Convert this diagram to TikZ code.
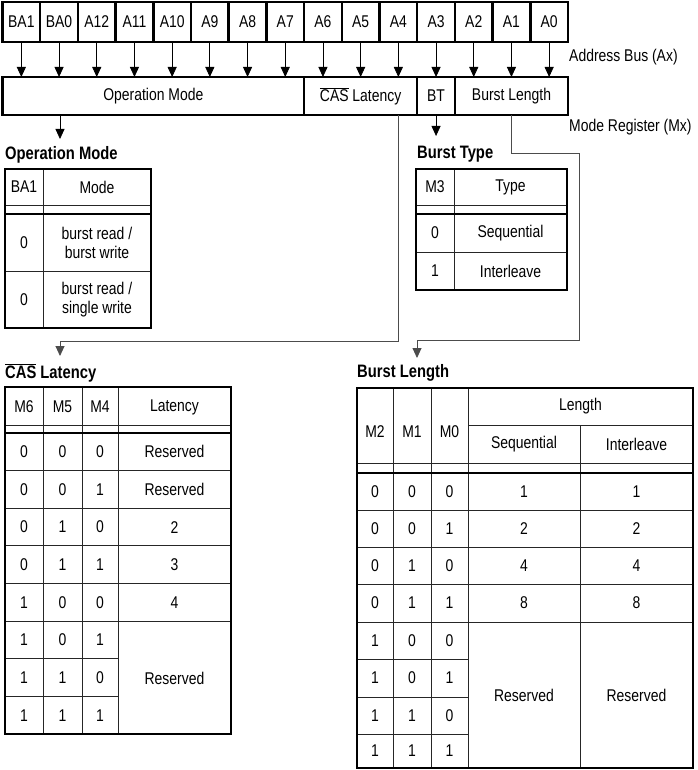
\documentclass[tikz,border=0pt]{standalone}
\usepackage{fontspec}
\setmainfont{Liberation Sans}[FakeStretch=0.82]
\usetikzlibrary{arrows.meta}
\newcommand{\ovl}[1]{$\overline{\hbox{#1}}$}
\begin{document}
\begin{tikzpicture}[x=1pt,y=-1pt,
  font=\fontsize{17}{19}\selectfont,
  topbox/.style={draw, line width=2.5pt, minimum width=37.7pt, minimum height=40pt, inner sep=0pt, outer sep=0pt},
  regbox/.style={draw, line width=2.5pt, minimum height=38pt, inner sep=0pt, outer sep=0pt},
  cell/.style={inner sep=0pt, align=center},
  ttl/.style={font=\fontsize{18}{20}\selectfont\bfseries, anchor=west, inner sep=0pt},
  side/.style={anchor=west, inner sep=0pt},
  tblouter/.style={line width=2.8pt},
  tblinner/.style={line width=0.8pt, black!85},
  tblhdr/.style={line width=1.4pt},
  arr/.style={-{Triangle[length=10pt,width=9pt]}, line width=0.8pt},
  conn/.style={-{Triangle[length=10pt,width=9pt]}, line width=0.9pt, black!70}
]
\useasboundingbox[fill=white] (0,0) rectangle (697,770);

% ---- address bus boxes
\foreach \lab [count=\i from 0] in {BA1,BA0,A12,A11,A10,A9,A8,A7,A6,A5,A4,A3,A2,A1,A0} {
  \node[topbox] (t\i) at ({2.5+(\i+0.5)*37.7},22) {\lab};
}

% ---- mode register
\node[regbox, minimum width=301.6pt] (opm) at (153.3,96) {Operation Mode};
\node[regbox, minimum width=113.1pt] (cas) at (360.65,96) {\ovl{CAS} Latency};
\node[regbox, minimum width=37.7pt] (bt) at (436.05,96) {BT};
\node[regbox, minimum width=113.1pt] (bl) at (511.5,96) {Burst Length};

\foreach \i in {0,...,14} {
  \draw[arr] (t\i.south) -- (t\i.south |- opm.north);
}

\node[side] (abus) at (569,57) {Address Bus (Ax)};
\node[side] (mreg) at (569,127) {Mode Register (Mx)};

% ---- connectors
\coordinate (optip) at (60,139);
\coordinate (bttip) at (436.05,136);
\coordinate (castip) at (60,356);
\coordinate (bltip) at (417,358);
\draw[arr] (opm.south -| optip) -- (optip);
\draw[arr] (bt.south) -- (bttip);
\draw[conn] (cas.south -| t10.south) -- ++(0,226) -| (castip);
\draw[conn] (bl.south -| t13.south) -- ++(0,38) -- ++(68,0) -- ++(0,187) -| (bltip);

% ---- titles
\node[ttl] (opttl) at (5,155) {Operation Mode};
\node[ttl] (btttl) at (417,154) {Burst Type};
\node[ttl] (casttl) at (5,373) {\ovl{CAS} Latency};
\node[ttl] (blttl) at (357,373) {Burst Length};

% ---- Operation Mode table
\draw[tblinner] (43,169) -- (43,328);
\draw[tblinner] (5,205) -- (151,205);
\draw[tblhdr] (5,214) -- (151,214);
\draw[tblinner] (5,271) -- (151,271);
\draw[tblouter] (5,169) rectangle (151,328);
\node[cell] (om1) at (24,187) {BA1};
\node[cell] (om2) at (97,187) {Mode};
\node[cell] (om3) at (24,243) {0};
\node[cell] (om4) at (97,243) {burst read /\\burst write};
\node[cell] (om5) at (24,300) {0};
\node[cell] (om6) at (97,300) {burst read /\\single write};

% ---- Burst Type table
\draw[tblinner] (454,169) -- (454,290);
\draw[tblinner] (416,205) -- (567,205);
\draw[tblhdr] (416,214) -- (567,214);
\draw[tblinner] (416,252) -- (567,252);
\draw[tblouter] (416,169) rectangle (567,290);
\node[cell] (bt1) at (435,187) {M3};
\node[cell] (bt2) at (510.5,187) {Type};
\node[cell] (bt3) at (435,233) {0};
\node[cell] (bt4) at (510.5,233) {Sequential};
\node[cell] (bt5) at (435,271) {1};
\node[cell] (bt6) at (510.5,271) {Interleave};

% ---- CAS Latency table
\foreach \x in {43,82,118} { \draw[tblinner] (\x,387) -- (\x,734); }
\draw[tblinner] (5,425) -- (231,425);
\draw[tblhdr] (5,433) -- (231,433);
\foreach \k in {1,...,5} { \draw[tblinner] (5,{433+\k*37.625}) -- (231,{433+\k*37.625}); }
\foreach \k in {6,7} { \draw[tblinner] (5,{433+\k*37.625}) -- (118,{433+\k*37.625}); }
\draw[tblouter] (5,387) rectangle (231,734);
\node[cell] (ch1) at (24,407) {M6};
\node[cell] (ch2) at (62.5,407) {M5};
\node[cell] (ch3) at (100,407) {M4};
\node[cell] (ch4) at (174.5,407) {Latency};
\foreach \a/\b/\c [count=\k from 0] in {0/0/0,0/0/1,0/1/0,0/1/1,1/0/0,1/0/1,1/1/0,1/1/1} {
  \node[cell] (ca\k) at (24,{433+(\k+0.5)*37.625}) {\a};
  \node[cell] (cb\k) at (62.5,{433+(\k+0.5)*37.625}) {\b};
  \node[cell] (cc\k) at (100,{433+(\k+0.5)*37.625}) {\c};
}
\foreach \v [count=\k from 0] in {Reserved,Reserved,2,3,4} {
  \node[cell] (cl\k) at (174.5,{433+(\k+0.5)*37.625}) {\v};
}
\node[cell] (clr) at (174.5,678) {Reserved};

% ---- Burst Length table
\foreach \x in {393,431,468} { \draw[tblinner] (\x,388) -- (\x,768); }
\draw[tblinner] (468,425) -- (693,425);
\draw[tblinner] (580,425) -- (580,768);
\draw[tblinner] (357,463) -- (693,463);
\draw[tblhdr] (357,473) -- (693,473);
\foreach \y in {510,547,584,622} { \draw[tblinner] (357,\y) -- (693,\y); }
\foreach \y in {659,697,734} { \draw[tblinner] (357,\y) -- (468,\y); }
\draw[tblouter] (357,388) rectangle (693,768);
\node[cell] (bh1) at (375,432) {M2};
\node[cell] (bh2) at (412,432) {M1};
\node[cell] (bh3) at (449.5,432) {M0};
\node[cell] (bh4) at (580.5,406) {Length};
\node[cell] (bh5) at (524,444) {Sequential};
\node[cell] (bh6) at (636.5,444) {Interleave};
\foreach \a/\b/\c/\yy [count=\k from 0] in {0/0/0/491.5,0/0/1/528.5,0/1/0/565.5,0/1/1/603,1/0/0/640.5,1/0/1/678,1/1/0/715.5,1/1/1/751} {
  \node[cell] (ba\k) at (375,\yy) {\a};
  \node[cell] (bb\k) at (412,\yy) {\b};
  \node[cell] (bc\k) at (449.5,\yy) {\c};
}
\foreach \v/\yy [count=\k from 0] in {1/491.5,2/528.5,4/565.5,8/603} {
  \node[cell] (bs\k) at (524,\yy) {\v};
  \node[cell] (bi\k) at (636.5,\yy) {\v};
}
\node[cell] (bsr) at (524,695) {Reserved};
\node[cell] (bir) at (636.5,695) {Reserved};
\end{tikzpicture}
\end{document}
